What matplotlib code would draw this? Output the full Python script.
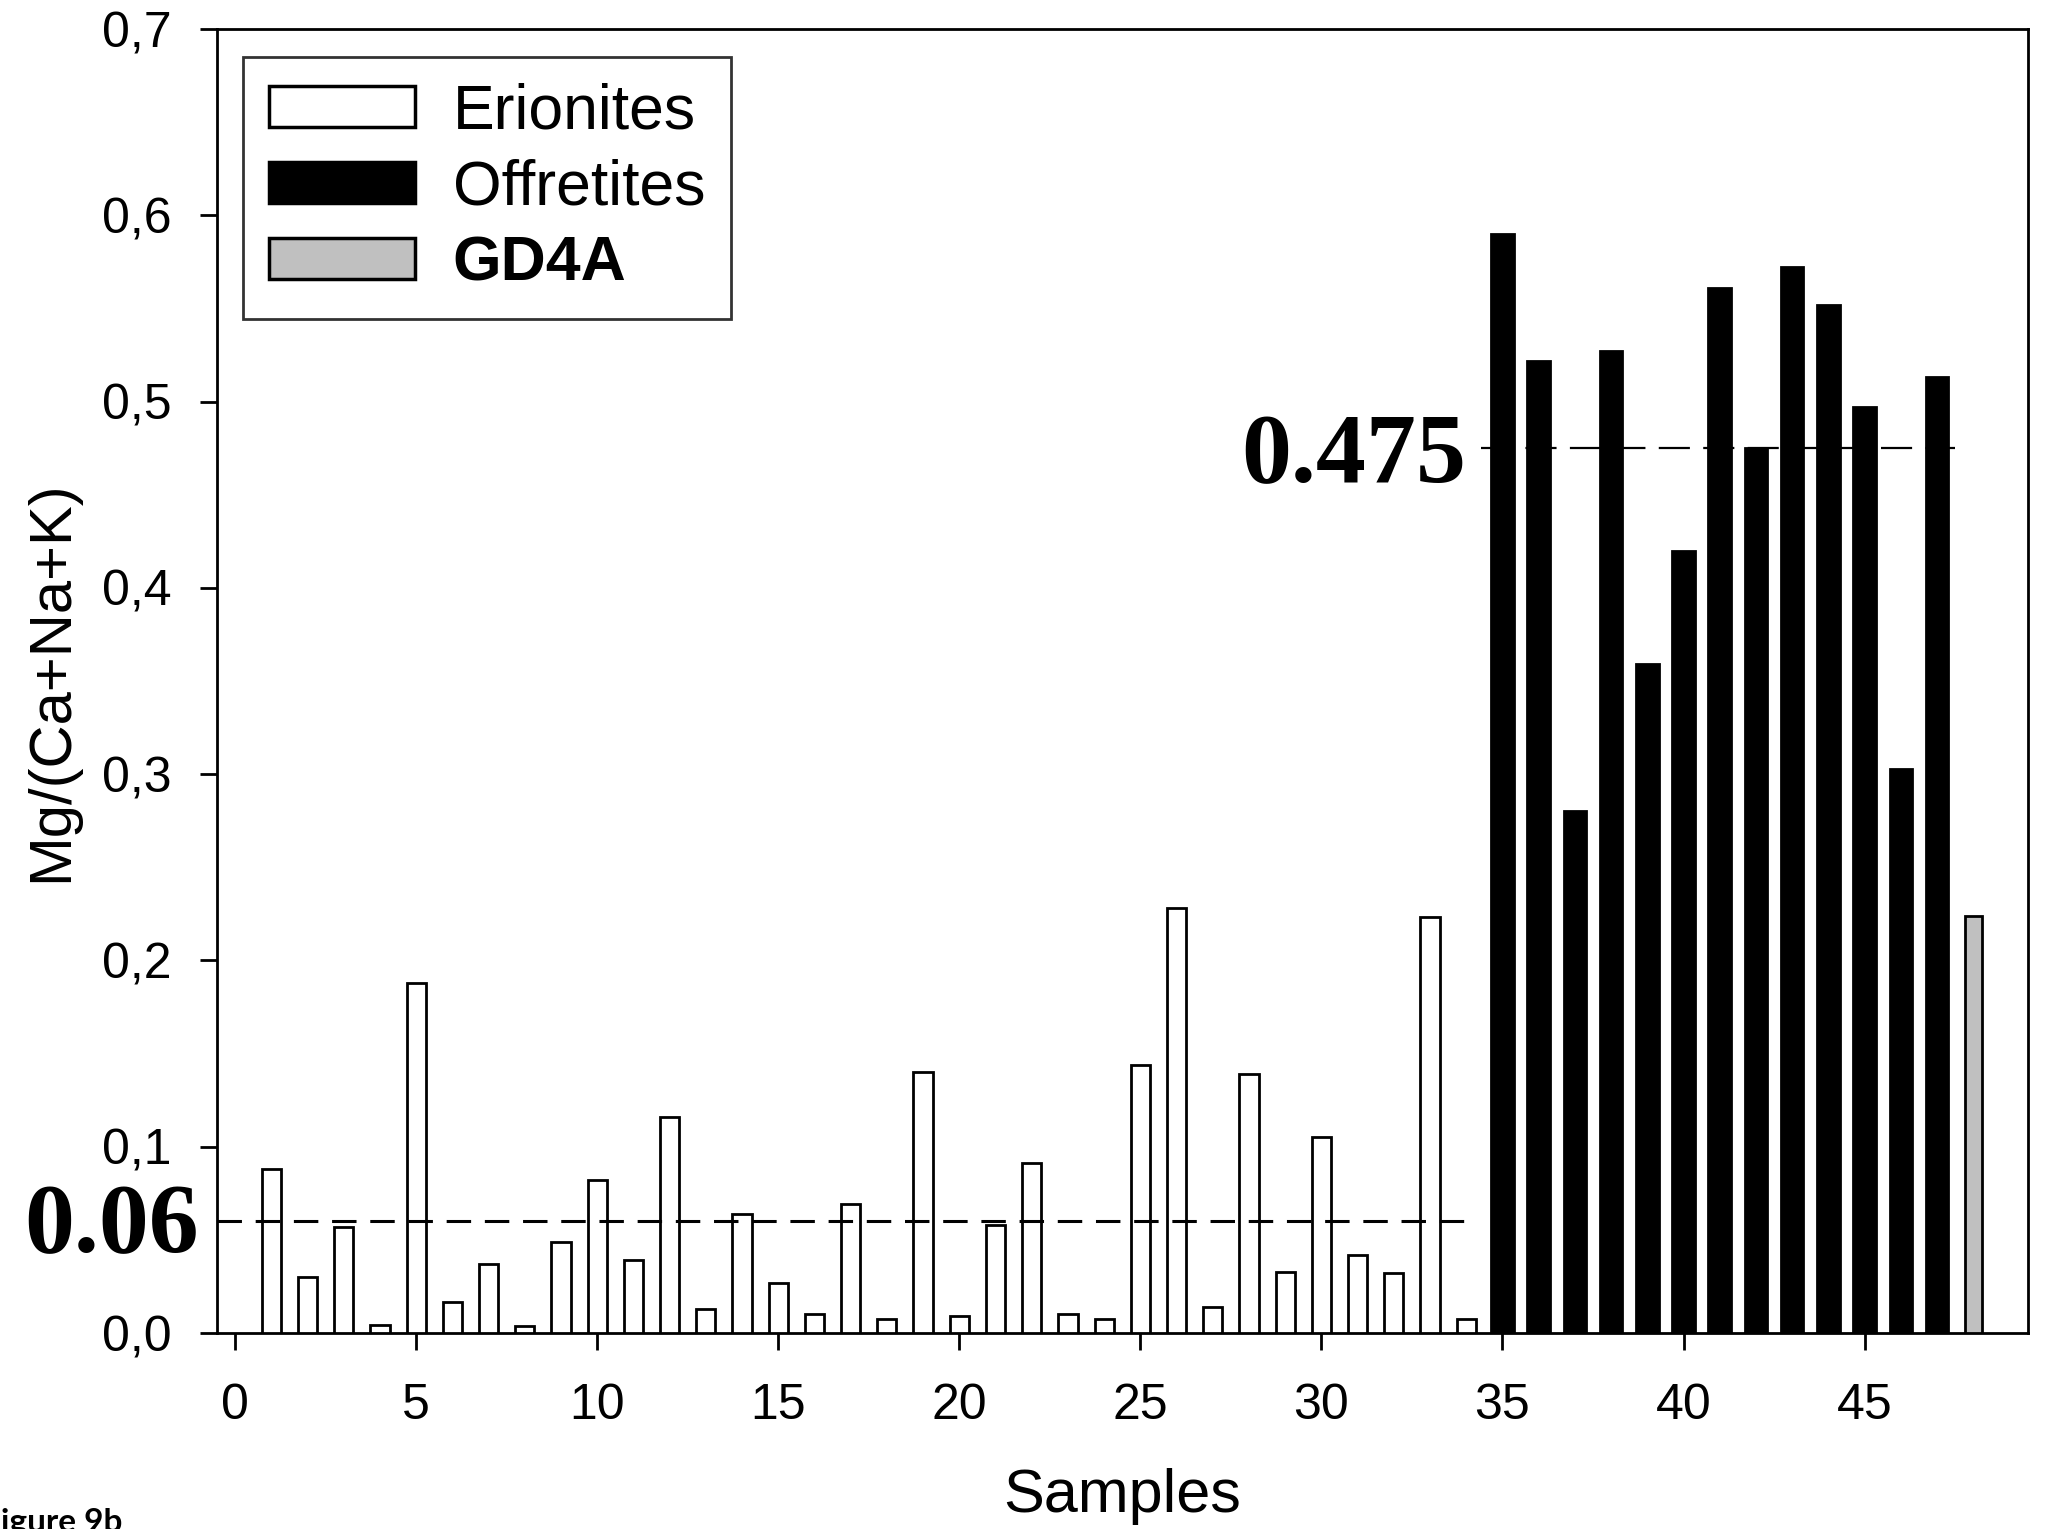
import matplotlib
matplotlib.use("Agg")
import matplotlib.pyplot as plt
from matplotlib.patches import Patch
from matplotlib.ticker import FuncFormatter, FixedLocator

# ---- data ----
erionite_samples = list(range(1, 35))
erionite_values = [0.088, 0.030, 0.057, 0.0045, 0.188, 0.0165, 0.037, 0.004, 0.049, 0.082,
                   0.039, 0.116, 0.013, 0.064, 0.027, 0.010, 0.069, 0.0077, 0.140, 0.009,
                   0.058, 0.0915, 0.010, 0.0077, 0.144, 0.228, 0.014, 0.139, 0.033, 0.105,
                   0.042, 0.032, 0.2235, 0.0077]
offretite_samples = list(range(35, 48))
offretite_values = [0.590, 0.522, 0.280, 0.527, 0.359, 0.420, 0.561, 0.475, 0.572, 0.552,
                    0.497, 0.303, 0.513]
gd4a_samples = [48]
gd4a_values = [0.224]

erionite_threshold = 0.06
offretite_threshold = 0.475
x_ticks = [0, 5, 10, 15, 20, 25, 30, 35, 40, 45]
y_ticks = [0.0, 0.1, 0.2, 0.3, 0.4, 0.5, 0.6, 0.7]

plt.rcParams['font.family'] = ['Liberation Sans', 'DejaVu Sans']

W, H = 2045, 1529
fig = plt.figure(figsize=(W / 100, H / 100), dpi=100)
ax = fig.add_axes([217 / W, 1 - 1333 / H, (2027.5 - 217) / W, (1333 - 29) / H])

lw = 2.0
ax.bar(erionite_samples, erionite_values, width=0.53, color='white', edgecolor='black', linewidth=lw, zorder=3)
ax.bar(offretite_samples, offretite_values, width=0.62, color='black', edgecolor='black', linewidth=lw, zorder=3)
ax.bar(gd4a_samples, gd4a_values, width=0.46, color='#c0c0c0', edgecolor='black', linewidth=lw, zorder=3)

# threshold lines
ax.plot([-0.5, 34.2], [erionite_threshold] * 2, color='black', lw=2.2, dashes=(8, 4.5), zorder=4)
ax.plot([34.4, 47.5], [offretite_threshold] * 2, color='black', lw=1.6, dashes=(14, 6), zorder=2)

ax.text(-1.0, 0.0435, '0.06', family='Liberation Serif', weight='bold', fontsize=72,
        ha='right', va='baseline', clip_on=False)
ax.text(34.0, 0.457, '0.475', family='Liberation Serif', weight='bold', fontsize=72,
        ha='right', va='baseline', clip_on=False)

ax.set_xlim(-0.5, 49.5)
ax.set_ylim(0, 0.7)
ax.xaxis.set_major_locator(FixedLocator(x_ticks))
ax.yaxis.set_major_locator(FixedLocator(y_ticks))
ax.yaxis.set_major_formatter(FuncFormatter(lambda v, p: f"{v:.1f}".replace('.', ',')))

for s in ax.spines.values():
    s.set_linewidth(2.0)
ax.tick_params(axis='both', direction='out', length=12, width=2.0, labelsize=36,
               top=False, right=False)
ax.tick_params(axis='y', pad=21)
ax.tick_params(axis='x', pad=24)

ax.set_xlabel('Samples', fontsize=44)
ax.set_ylabel('Mg/(Ca+Na+K)', fontsize=43)
ax.xaxis.set_label_coords(0.5, -0.1035)
ax.yaxis.set_label_coords(-0.076, 0.5)

handles = [Patch(facecolor='white', edgecolor='black', linewidth=2.5, label='Erionites'),
           Patch(facecolor='black', edgecolor='black', linewidth=2.5, label='Offretites'),
           Patch(facecolor='#c0c0c0', edgecolor='black', linewidth=2.5, label='GD4A')]
leg = ax.legend(handles=handles, loc='upper left', bbox_to_anchor=(0.0145, 0.9785),
                borderaxespad=0, fontsize=45, frameon=True, fancybox=False,
                handlelength=2.34, handleheight=0.62, handletextpad=0.6,
                labelspacing=0.27, borderpad=0.41)
leg.get_frame().set_edgecolor('black')
leg.get_frame().set_linewidth(2.0)
leg.get_texts()[2].set_fontweight('bold')

fig.text(-18 / W, -3 / H, 'Figure 9b', fontsize=24, weight='bold', family='Lato',
         ha='left', va='baseline')

fig.savefig('out.png', dpi=100)
